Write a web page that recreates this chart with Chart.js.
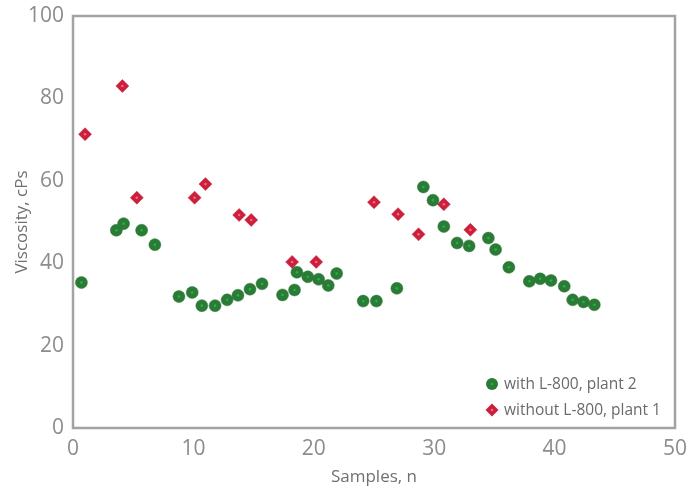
<!DOCTYPE html>
<html>
<head>
<meta charset="utf-8">
<script src="https://cdn.jsdelivr.net/npm/chart.js@4"></script>
<style>
  html, body { margin: 0; padding: 0; background: #fff; }
  #wrap { width: 697px; height: 493px; }
</style>
</head>
<body>
<div id="wrap"><canvas id="viscosityChart"></canvas></div>
<script>
// samples with L-800, plant 2
const withX = [0.7, 3.6, 4.2, 5.7, 6.8, 8.8, 9.9, 10.7, 11.8, 12.8, 13.7, 14.7, 15.7, 17.4, 18.4, 18.6, 19.5, 20.4, 21.2, 21.9,
  24.1, 25.2, 26.9, 29.1, 29.9, 30.8, 31.9, 32.9, 34.5, 35.1, 36.2, 37.9, 38.8, 39.7, 40.8, 41.5, 42.4, 43.3];
const withY = [35.3, 48.0, 49.6, 48.0, 44.5, 31.9, 32.9, 29.7, 29.7, 31.1, 32.2, 33.7, 35.0, 32.3, 33.5, 37.8, 36.7, 36.1, 34.6, 37.5,
  30.8, 30.8, 33.9, 58.5, 55.3, 48.9, 44.9, 44.2, 46.1, 43.3, 39.0, 35.6, 36.2, 35.8, 34.4, 31.1, 30.6, 29.9];

// samples without L-800, plant 1
const withoutX = [1.0, 4.1, 5.3, 10.1, 11.0, 13.8, 14.8, 18.2, 20.2, 25.0, 27.0, 28.7, 30.8, 33.0];
const withoutY = [71.3, 83.0, 55.9, 55.9, 59.2, 51.7, 50.5, 40.3, 40.3, 54.8, 51.9, 47.0, 54.3, 48.1];

const seriesLabels = ["with L-800, plant 2", "without L-800, plant 1"];
const xTitle = "Samples, n";
const yTitle = "Viscosity, cPs";

const GREEN = "#2b7b37";
const GREEN_DOT = "#22b24c";
const RED = "#cb1f3c";
const RED_DOT = "#f06a80";
const AXIS = "#a3a3a3";
const FONT = "'Open Sans', 'Noto Sans', sans-serif";

const toPoints = (xs, ys) => xs.map((x, i) => ({ x: x, y: ys[i] }));

// frame around the plot area + the little highlight dot in each marker
const framePlugin = {
  id: "frame",
  beforeDatasetsDraw(chart) {
    const { ctx, chartArea: a } = chart;
    ctx.save();
    ctx.strokeStyle = AXIS;
    ctx.lineWidth = 2.5;
    ctx.strokeRect(a.left, a.top, a.right - a.left, a.bottom - a.top);
    ctx.restore();
  },
  afterDatasetsDraw(chart) {
    const ctx = chart.ctx;
    const dots = [GREEN_DOT, RED_DOT];
    ctx.save();
    chart.data.datasets.forEach((ds, i) => {
      chart.getDatasetMeta(i).data.forEach(pt => {
        ctx.fillStyle = dots[i];
        ctx.beginPath();
        ctx.arc(pt.x, pt.y, 1.3, 0, Math.PI * 2);
        ctx.fill();
      });
    });
    ctx.restore();
  }
};

// legend drawn inside the plot, bottom right
const insideLegend = {
  id: "insideLegend",
  afterDraw(chart) {
    const { ctx, chartArea: a } = chart;
    const mx = a.right - 183;
    const rows = [a.bottom - 44, a.bottom - 18];
    ctx.save();
    ctx.font = "15.5px " + FONT;
    ctx.textBaseline = "middle";
    chart.data.datasets.forEach((ds, i) => {
      const y = rows[i];
      ctx.fillStyle = ds.backgroundColor;
      ctx.beginPath();
      if (i === 0) {
        ctx.arc(mx, y, 6, 0, Math.PI * 2);
      } else {
        ctx.moveTo(mx - 6.5, y); ctx.lineTo(mx, y - 6.5);
        ctx.lineTo(mx + 6.5, y); ctx.lineTo(mx, y + 6.5);
        ctx.closePath();
      }
      ctx.fill();
      ctx.fillStyle = i === 0 ? GREEN_DOT : RED_DOT;
      ctx.beginPath();
      ctx.arc(mx, y, 1.3, 0, Math.PI * 2);
      ctx.fill();
      ctx.fillStyle = "#6a6a6a";
      ctx.fillText(ds.label, mx + 12, y + 1);
    });
    ctx.restore();
  }
};

const ctx = document.getElementById("viscosityChart").getContext("2d");
new Chart(ctx, {
  type: "scatter",
  data: {
    datasets: [{
      label: seriesLabels[0],
      data: toPoints(withX, withY),
      pointStyle: "circle",
      pointRadius: 6,
      pointHoverRadius: 6,
      backgroundColor: GREEN,
      borderColor: GREEN,
      borderWidth: 0.5
    }, {
      label: seriesLabels[1],
      data: toPoints(withoutX, withoutY),
      pointStyle: "rectRot",
      pointRadius: 6.5,
      pointHoverRadius: 6.5,
      backgroundColor: RED,
      borderColor: RED,
      borderWidth: 0.5
    }]
  },
  options: {
    responsive: true,
    maintainAspectRatio: false,
    animation: false,
    layout: { padding: { top: 16, right: 22, left: 0, bottom: 0 } },
    plugins: {
      legend: { display: false },
      tooltip: { enabled: false }
    },
    scales: {
      x: {
        type: "linear",
        min: 0, max: 50,
        grid: { display: false, drawTicks: false },
        border: { display: false },
        ticks: { stepSize: 10, padding: 8, color: "#8c8c8c", font: { family: FONT, size: 21 } },
        title: { display: true, text: xTitle, color: "#707070", padding: { top: 0, bottom: 6 }, font: { family: FONT, size: 17 } },
        afterFit(scale) { scale.height = 65; scale.paddingLeft = 0; scale.paddingRight = 0; }
      },
      y: {
        min: 0, max: 100,
        grid: { display: false, drawTicks: false },
        border: { display: false },
        ticks: { stepSize: 20, padding: 9, color: "#8c8c8c", font: { family: FONT, size: 21 } },
        title: { display: true, text: yTitle, color: "#707070", padding: { top: 12, bottom: 0 }, font: { family: FONT, size: 17 } },
        afterFit(scale) { scale.width = 73; scale.paddingTop = 0; scale.paddingBottom = 0; }
      }
    }
  },
  plugins: [framePlugin, insideLegend]
});
</script>
</body>
</html>
